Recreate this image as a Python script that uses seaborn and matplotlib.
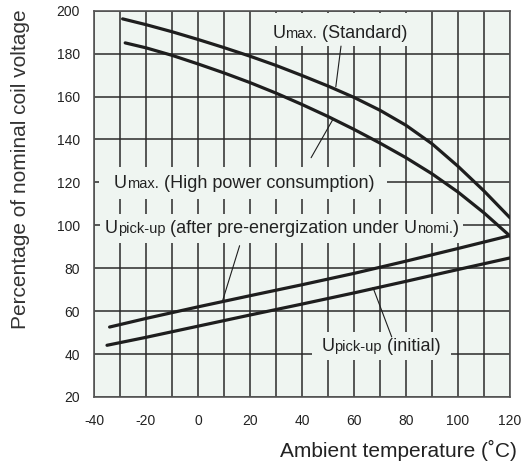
import matplotlib
matplotlib.use("Agg")
import matplotlib.pyplot as plt
import matplotlib.transforms as mtransforms
from matplotlib.patches import Rectangle
import pandas as pd
import seaborn as sns

# curves
temp_std = [-29, -20, -10, 0, 10, 20, 30, 40, 50, 60, 70, 80, 90, 100, 110, 120]
umax_std = [196.2, 193.5, 190.2, 186.6, 182.8, 178.8, 174.5, 169.8, 164.9, 159.6, 153.6, 146.6, 138, 127.5, 116, 103.5]

temp_high = [-28, -20, -10, 0, 10, 20, 30, 40, 50, 60, 70, 80, 90, 100, 110, 120]
umax_high = [185, 182.7, 179.2, 175.2, 171, 166.5, 161.6, 156.3, 150.7, 144.7, 138.3, 131.5, 124, 115.5, 105.8, 95]

temp_after = [-34, -20, 0, 20, 40, 60, 80, 100, 120]
pickup_after = [52.6, 56.6, 62, 67.2, 72.3, 77.6, 83.3, 89.2, 95.2]

temp_init = [-35, -20, 0, 20, 40, 60, 80, 100, 120]
pickup_init = [44.1, 47.8, 53, 58.2, 63.3, 68.5, 73.9, 79.4, 84.8]

# leader lines (label -> curve)
leader_std = ([55, 53], [183.5, 164.5])
leader_high = ([43.5, 52], [131.5, 149.6])
leader_after = ([16, 9.5], [90.5, 65])
leader_init = ([67.3, 74.5], [71, 48])

x_ticks = list(range(-40, 121, 20))
x_minor = list(range(-40, 121, 10))
y_ticks = list(range(20, 201, 20))

bg = '#eff5f1'
ink = '#1e1e1e'

sns.set_style("white")
plt.rcParams['font.family'] = ['Liberation Sans', 'DejaVu Sans']
plt.rcParams['axes.unicode_minus'] = False

fig = plt.figure(figsize=(5.29, 4.62), dpi=100)
ax = fig.add_axes([94/529, 65/462, 416/529, 386.3/462])
ax.set_facecolor(bg)

series = [(temp_std, umax_std), (temp_high, umax_high),
          (temp_after, pickup_after), (temp_init, pickup_init)]
for xs, ys in series:
    df = pd.DataFrame({'t': xs, 'v': ys})
    sns.lineplot(data=df, x='t', y='v', color=ink, linewidth=2.3,
                 estimator=None, sort=False, ax=ax, zorder=3)

for xs, ys in [leader_std, leader_high, leader_after, leader_init]:
    ax.plot(xs, ys, color=ink, linewidth=0.8, zorder=3)

ax.set_xlim(-40, 120)
ax.set_ylim(20, 200)
ax.set_xticks(x_ticks)
ax.set_xticks(x_minor, minor=True)
ax.set_yticks(y_ticks)
ax.set_axisbelow(True)
ax.grid(which='both', axis='x', color='#2a2a2a', linewidth=1.1)
ax.grid(which='major', axis='y', color='#2a2a2a', linewidth=1.1)
ax.tick_params(which='both', length=0, labelsize=10, colors='#222222')
ax.tick_params(axis='x', pad=12)
ax.tick_params(axis='y', pad=10)
for s in ax.spines.values():
    s.set_color('#555555')
    s.set_linewidth(1.2)

ax.set_xlabel('Ambient temperature (˚C)', fontsize=15, color='#222222', loc='right')
ax.xaxis.set_label_coords(1.017, -0.112)
ax.set_ylabel('Percentage of nominal coil voltage', fontsize=15, color='#333333')
ax.yaxis.set_label_coords(-0.155, 0.59)

renderer = fig.canvas.get_renderer()
BIG, SMALL = 13, 10.5


def put_label(x, y, parts, pads):
    dx = 0
    texts = []
    for s, fs in parts:
        tr = mtransforms.offset_copy(ax.transData, fig=fig, x=dx, y=0, units='dots')
        t = ax.text(x, y, s, fontsize=fs, va='baseline', ha='left',
                    transform=tr, color='#222222', zorder=4)
        dx += t.get_window_extent(renderer).width
        texts.append(t)
    boxes = [t.get_window_extent(renderer) for t in texts]
    x0 = min(b.x0 for b in boxes) - pads[0]
    x1 = max(b.x1 for b in boxes) + pads[1]
    y0 = min(b.y0 for b in boxes) - pads[3]
    y1 = max(b.y1 for b in boxes) + pads[2]
    inv = ax.transAxes.inverted()
    (a0, b0), (a1, b1) = inv.transform([(x0, y0), (x1, y1)])
    ax.add_patch(Rectangle((a0, b0), a1 - a0, b1 - b0, transform=ax.transAxes,
                           facecolor=bg, edgecolor='none', zorder=2.2))


put_label(28.6, 187.1, [('U', BIG), ('max.', SMALL), (' (Standard)', BIG)], (8, 10, 12, 4))
put_label(-32.3, 117.2, [('U', BIG), ('max.', SMALL), (' (High power consumption)', BIG)], (15, 13, 8, 7))
put_label(-35.8, 96.3, [('U', BIG), ('pick-up', SMALL), (' (after pre-energization under ', BIG),
                        ('U', BIG), ('nomi.', SMALL), (')', BIG)], (5, 4, 6, 6))
put_label(47.5, 41.6, [('U', BIG), ('pick-up', SMALL), (' (initial)', BIG)], (10, 10, 6, 5))

fig.savefig('out.png', dpi=100, facecolor='white')
